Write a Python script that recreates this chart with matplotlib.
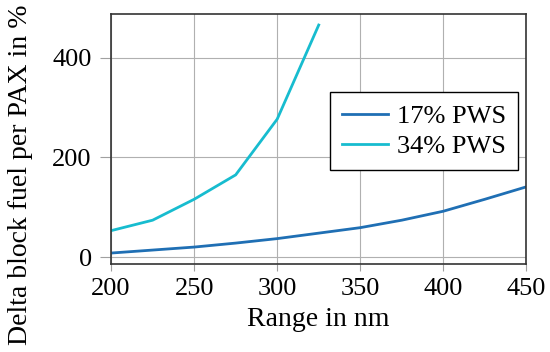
import matplotlib.pyplot as plt
import numpy as np

plt.rcParams['font.family'] = ['Liberation Serif', 'DejaVu Serif']

range_17 = [200, 225, 250, 275, 300, 325, 350, 375, 400, 425, 450]
fuel_17 = [8, 14, 20, 28, 37, 48, 59, 74, 92, 116, 141]
range_34 = [200, 225, 250, 275, 300, 325]
fuel_34 = [53, 74, 116, 165, 277, 466]

fig, ax = plt.subplots(figsize=(5.5, 3.52), dpi=100)
fig.subplots_adjust(left=0.202, right=0.957, top=0.96, bottom=0.25)

ax.plot(range_17, fuel_17, color='#1f6fb4', lw=2, label='17% PWS')
ax.plot(range_34, fuel_34, color='#17bccf', lw=2, label='34% PWS')

ax.set_xlim(200, 450)
ax.set_ylim(-14, 488)
ax.set_xticks(np.arange(200, 451, 50))
ax.set_yticks([0, 200, 400])
ax.grid(True, color='#b0b0b0', lw=0.8)
ax.tick_params(direction='out', color='#a0a0a0', labelsize=19)
ax.tick_params(axis='x', length=5, pad=5)
ax.tick_params(axis='y', length=8, pad=6)
for s in ax.spines.values():
    s.set_color('#333333')
    s.set_linewidth(1.2)

ax.set_xlabel('Range in nm', fontsize=20, labelpad=5)
ax.set_ylabel('Delta block fuel per PAX in %', fontsize=20)
ax.yaxis.set_label_coords(-0.188, 0.356)

leg = ax.legend(loc='center right', bbox_to_anchor=(0.98, 0.532), fontsize=19,
                fancybox=False, framealpha=1, edgecolor='black',
                borderaxespad=0, handlelength=1.75, borderpad=0.45,
                labelspacing=0.25, handletextpad=0.35)
leg.get_frame().set_linewidth(1.0)

plt.savefig('out.png')
